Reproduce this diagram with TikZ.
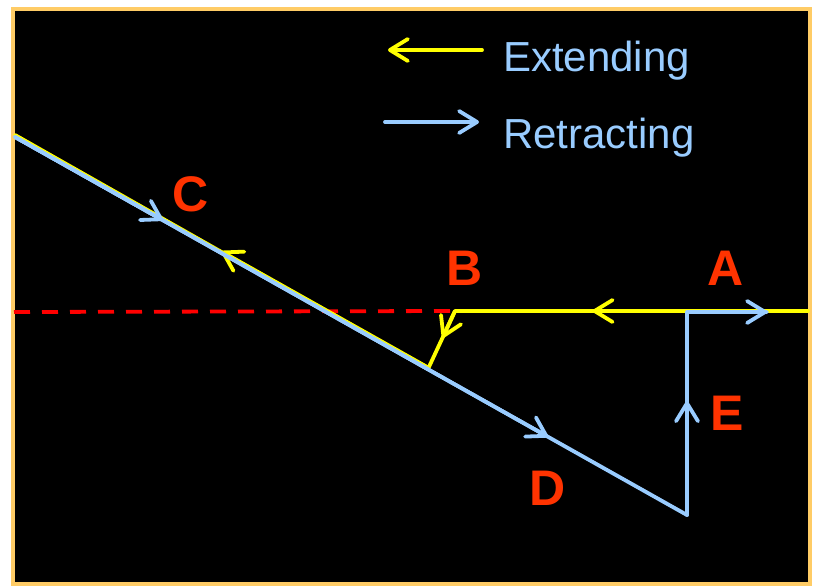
\documentclass[tikz,border=0pt]{standalone}
\usepackage{fontspec}
\setmainfont{Liberation Sans}
\usetikzlibrary{calc,arrows.meta}

\definecolor{framecol}{HTML}{FFCC66}
\definecolor{extcol}{HTML}{FFFF00}
\definecolor{retcol}{HTML}{99CCFF}
\definecolor{labcol}{HTML}{FF3300}

\begin{document}
\begin{tikzpicture}[x=1pt, y=-1pt,
  >={Straight Barb[length=18pt,width=22pt,round]},
  line cap=round, line join=round,
  ext/.style={extcol, line width=3.8pt},
  ret/.style={retcol, line width=3.8pt},
  letter/.style={labcol, inner sep=0pt, font=\fontsize{50}{50}\selectfont\bfseries},
  legend/.style={retcol, inner sep=0pt, anchor=base west, font=\fontsize{42}{42}\selectfont}]

  % ===== 背景と枠 =====
  \useasboundingbox (0,0) rectangle (815,586);
  \fill[white] (0,0) rectangle (815,586);
  \draw[framecol, line width=4pt, line join=miter, fill=black] (13,9) rectangle (810,584);

  % ===== 点 =====
  \coordinate (top)  at (15,137);   % 斜線の始点
  \coordinate (bot)  at (687,515);  % 斜線の終点
  \coordinate (junc) at (687,312);  % 縦線と横線の交点
  \coordinate (rend) at (767,312);  % 青の終点
  \coordinate (edge) at (808,311);  % 右端
  \coordinate (bk)   at (455,311);  % B の角
  \coordinate (bf)   at (428,369);  % B の足
  \coordinate (left) at (14,312);   % 破線の始点

  % ===== 破線 =====
  \draw[red, line width=3.8pt, line cap=butt, dash pattern=on 16pt off 12pt]
  (left) -- (bk);

  % ===== Extending（黄）=====
  \draw[ext] (edge) -- (bk) -- (bf) -- ($(top)+(0,-2)$);
  \draw[ext,->] (edge) -- ($(edge)!0.61!(bk)$);
  \draw[ext,->] (bk) -- ($(bk)!0.46!(bf)$);
  \draw[ext,->] ($(bf)+(0,-1.5)$) -- ($(bf)!0.50!(top)+(0,-1.5)$);

  % ===== Retracting（青）=====
  \draw[ret] (top) -- (bot) -- (junc) -- (rend);
  \draw[ret,->] (top) -- ($(top)!0.22!(bot)$);
  \draw[ret,->] (top) -- ($(top)!0.793!(bot)$);
  \draw[ret,->] (bot) -- ($(bot)!0.56!(junc)$);
  \draw[ret,->] (junc) -- (rend);

  % ===== ラベル =====
  \node[letter] (A) at (726,268) {A};
  \node[letter] (B) at (465,268) {B};
  \node[letter] (C) at (191,194) {C};
  \node[letter] (D) at (548,488) {D};
  \node[letter] (E) at (727,413) {E};

  % ===== 凡例 =====
  \node[legend] (extlbl) at (503,72) {Extending};
  \node[legend] (retlbl) at (503,148) {Retracting};
  \coordinate (exttail) at (482,50);
  \coordinate (rettail) at (385,122);
  \draw[ext,->] (exttail) -- ++(-94,0);
  \draw[ret,->] (rettail) -- ++(94,0);

\end{tikzpicture}
\end{document}
